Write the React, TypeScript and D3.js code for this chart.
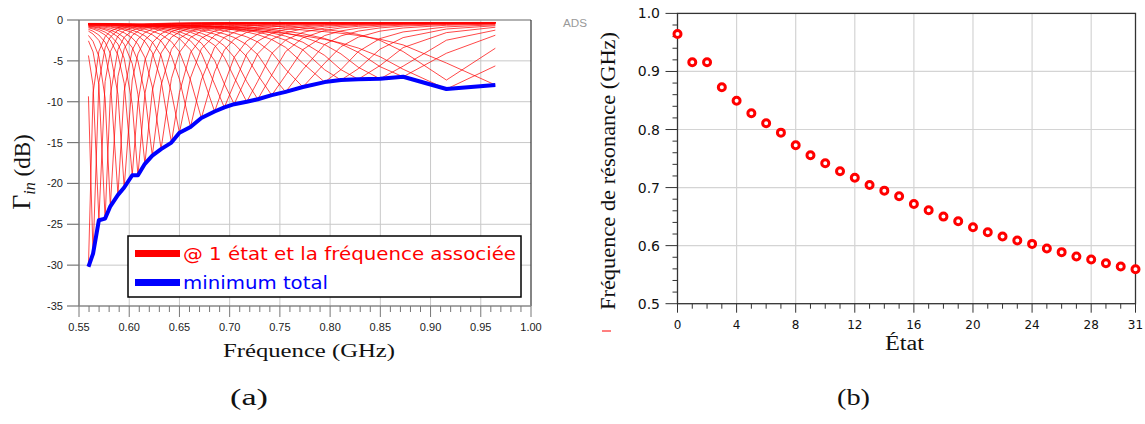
import React from 'react';
import * as d3 from 'd3';

// ---------- data ----------
const STATES = [0, 1, 2, 3, 4, 5, 6, 7, 8, 9, 10, 11, 12, 13, 14, 15, 16, 17, 18, 19, 20, 21, 22, 23, 24, 25, 26, 27, 28, 29, 30, 31];
// resonance frequency of each state (GHz)
const RESONANCE_GHZ = [0.9645, 0.9158, 0.9158, 0.8727, 0.8497, 0.828, 0.8108, 0.7946, 0.7729, 0.7557, 0.7419, 0.728, 0.717, 0.7045, 0.6947, 0.685, 0.6718, 0.661, 0.65, 0.642, 0.6317, 0.623, 0.6156, 0.6087, 0.603, 0.595, 0.5888, 0.5812, 0.576, 0.5698, 0.564, 0.5594];
// depth of each state's resonance dip (dB) (a)
const MIN_DB = [-7.95, -8.45, -7.35, -6.95, -7.2, -7.25, -7.35, -7.6, -8.2, -8.8, -9.2, -9.7, -10.0, -10.3, -10.7, -11.2, -12.0, -13.1, -13.8, -15.0, -15.8, -16.6, -17.6, -19.0, -19.0, -20.5, -21.4, -22.8, -24.3, -24.5, -28.6, -30.2];
// estimated loaded Q of each state (width of its dip in panel (a))
const Q_FACTOR = [4.6, 4.2, 7, 6, 6.5, 7, 7.5, 8, 8.5, 9, 9.5, 10, 10.5, 11, 11.5, 12, 12.5, 13, 13.5, 14, 14.5, 15, 16, 16.5, 17, 18, 19, 20, 21, 22, 23, 24];
const FAR_DB = -0.3;

const A_X_TICKS = [0.55, 0.6, 0.65, 0.7, 0.75, 0.8, 0.85, 0.9, 0.95, 1.0];
const A_Y_TICKS = [0, -5, -10, -15, -20, -25, -30, -35];
const B_X_TICKS = [0, 4, 8, 12, 16, 20, 24, 28, 31];
const B_Y_TICKS = [0.5, 0.6, 0.7, 0.8, 0.9, 1.0];

const LEGEND_A = ['@ 1 état et la fréquence associée', 'minimum total'];

// ---------- helpers ----------
function reflectionDb(state: number, f: number): number {
  const f0 = RESONANCE_GHZ[state];
  const far = Math.pow(10, FAR_DB / 10);
  const g2 = Math.pow(10, MIN_DB[state] / 10) / far;
  const x = (2 * Q_FACTOR[state] * (f - f0)) / f0;
  return 10 * Math.log10((far * (g2 + x * x)) / (1 + x * x));
}

const SANS = '"Liberation Sans", Arial, sans-serif';
const DEJAVU = '"DejaVu Sans", sans-serif';
const SERIF = '"Liberation Serif", "Times New Roman", serif';

export default function App() {
  const xA = d3.scaleLinear().domain([0.55, 1.0]).range([79, 531]);
  const yA = d3.scaleLinear().domain([0, -35]).range([20, 306]);
  const xB = d3.scaleLinear().domain([0, 31]).range([677.5, 1135.5]);
  const yB = d3.scaleLinear().domain([0.5, 1.0]).range([303.7, 13.4]);

  const freqs = Array.from(new Set(RESONANCE_GHZ)).sort((a, b) => a - b);
  const line = d3
    .line<{ f: number; v: number }>()
    .x((d) => xA(d.f))
    .y((d) => yA(d.v));

  const redPaths = STATES.map((s) => line(freqs.map((f) => ({ f, v: reflectionDb(s, f) }))) || '');
  const bluePath =
    line(freqs.map((f) => ({ f, v: d3.min(STATES, (s) => reflectionDb(s, f)) as number }))) || '';

  const aMinor = d3.range(0, 46).map((i) => 0.55 + i * 0.01);
  const bMinorX = STATES;
  const bMinorY = d3.range(0, 26).map((i) => 0.5 + i * 0.02);

  return (
    <svg width={1145} height={424} style={{ position: 'absolute', left: 0, top: 0, background: '#fff' }}>
      <rect x={0} y={0} width={1145} height={424} fill="#fff" />
      {/* ================= Panel (a) ================= */}
      {A_X_TICKS.slice(1, -1).map((t) => (
        <line key={'agx' + t} x1={xA(t)} x2={xA(t)} y1={yA(0)} y2={yA(-35)} stroke="#c8c8c8" strokeWidth={1} />
      ))}
      {A_Y_TICKS.slice(1, -1).map((t) => (
        <line key={'agy' + t} x1={xA(0.55)} x2={xA(1.0)} y1={yA(t)} y2={yA(t)} stroke="#c8c8c8" strokeWidth={1} />
      ))}
      <g>
        {redPaths.map((p, i) => (
          <path key={'r' + i} d={p} fill="none" stroke="#ff0000" strokeWidth={0.8} strokeOpacity={0.9} />
        ))}
      </g>
      <path d={bluePath} fill="none" stroke="#0000ff" strokeWidth={4} strokeLinejoin="round" />
      {/* frame */}
      <line x1={xA(0.55)} x2={xA(1.0)} y1={yA(0)} y2={yA(0)} stroke="#999" strokeWidth={1.5} />
      <line x1={xA(1.0)} x2={xA(1.0)} y1={yA(0)} y2={yA(-35)} stroke="#333" strokeWidth={1.2} />
      <line x1={xA(0.55)} x2={xA(0.55)} y1={yA(0)} y2={yA(-35)} stroke="#777" strokeWidth={1.5} />
      <line x1={xA(0.55)} x2={xA(1.0)} y1={yA(-35)} y2={yA(-35)} stroke="#888" strokeWidth={1.5} />
      {A_Y_TICKS.map((t) => (
        <g key={'ayt' + t}>
          <line x1={67} x2={xA(0.55)} y1={yA(t)} y2={yA(t)} stroke="#777" strokeWidth={1.2} />
          <text x={63} y={yA(t) + 4} textAnchor="end" fontFamily={SANS} fontSize={11} fill="#222">
            {t === 0 ? '0' : String(t)}
          </text>
        </g>
      ))}
      {aMinor.map((t, i) => (
        <line key={'axm' + i} x1={xA(t)} x2={xA(t)} y1={yA(-35)} y2={yA(-35) + (i % 5 === 0 ? 11 : 6)} stroke="#777" strokeWidth={1} />
      ))}
      {A_X_TICKS.map((t) => (
        <text key={'axl' + t} x={xA(t)} y={331} textAnchor="middle" fontFamily={SANS} fontSize={11} fill="#222">
          {t.toFixed(2)}
        </text>
      ))}
      {/* legend */}
      <rect x={128} y={236} width={393} height={61} fill="#fff" stroke="#000" strokeWidth={1.5} />
      <line x1={135} x2={180} y1={253.5} y2={253.5} stroke="#ff0000" strokeWidth={7} />
      <line x1={135} x2={180} y1={282.5} y2={282.5} stroke="#0000ff" strokeWidth={7} />
      <text x={183} y={260} fontFamily={DEJAVU} fontSize={18} fill="#ff0000" textLength={333} lengthAdjust="spacingAndGlyphs">
        {LEGEND_A[0]}
      </text>
      <text x={183} y={289} fontFamily={DEJAVU} fontSize={18} fill="#0000ff" textLength={145} lengthAdjust="spacingAndGlyphs">
        {LEGEND_A[1]}
      </text>
      {/* axis titles */}
      <text transform="translate(30,172) rotate(-90)" textAnchor="middle" fontFamily={SERIF} fontSize={23} fill="#111">
        <tspan fontSize={26}>Γ</tspan>
        <tspan fontStyle="italic" fontSize={16} dy={5}>in</tspan>
        <tspan dy={-5}> (dB)</tspan>
      </text>
      <text x={223} y={357} fontFamily={SERIF} fontSize={19} fill="#111" textLength={172} lengthAdjust="spacingAndGlyphs">
        Fréquence (GHz)
      </text>
      <text x={230} y={405} fontFamily={SERIF} fontSize={24} fill="#111" textLength={38} lengthAdjust="spacingAndGlyphs">
        (a)
      </text>
      <text x={563} y={27} fontFamily={SANS} fontSize={10} fill="#999" textLength={24} lengthAdjust="spacingAndGlyphs">
        ADS
      </text>

      {/* ================= Panel (b) ================= */}
      {B_X_TICKS.slice(1, -1).map((t) => (
        <line key={'bgx' + t} x1={xB(t)} x2={xB(t)} y1={yB(1.0)} y2={yB(0.5)} stroke="#d4d4d4" strokeWidth={1.2} />
      ))}
      {B_Y_TICKS.slice(1, -1).map((t) => (
        <line key={'bgy' + t} x1={xB(0)} x2={xB(31)} y1={yB(t)} y2={yB(t)} stroke="#d4d4d4" strokeWidth={1.2} />
      ))}
      <rect x={xB(0)} y={yB(1.0)} width={xB(31) - xB(0)} height={yB(0.5) - yB(1.0)} fill="none" stroke="#333" strokeWidth={1.3} />
      {bMinorY.map((t, i) => (
        <line key={'bym' + i} x1={xB(0) - (i % 5 === 0 ? 12 : 5)} x2={xB(0)} y1={yB(t)} y2={yB(t)} stroke="#333" strokeWidth={1} />
      ))}
      {B_Y_TICKS.map((t) => (
        <text key={'byl' + t} x={660} y={yB(t) + 5} textAnchor="end" fontFamily={DEJAVU} fontSize={14} fill="#111">
          {t.toFixed(1)}
        </text>
      ))}
      {bMinorX.map((t) => (
        <line key={'bxm' + t} x1={xB(t)} x2={xB(t)} y1={yB(0.5)} y2={yB(0.5) + (B_X_TICKS.includes(t) ? 9 : 5)} stroke="#333" strokeWidth={1} />
      ))}
      {B_X_TICKS.map((t) => (
        <text key={'bxl' + t} x={xB(t)} y={329} textAnchor="middle" fontFamily={DEJAVU} fontSize={12} fill="#111">
          {t}
        </text>
      ))}
      {STATES.map((s) => (
        <circle key={'pt' + s} cx={xB(s)} cy={yB(RESONANCE_GHZ[s])} r={3.5} fill="#fff" stroke="#ff0000" strokeWidth={3} />
      ))}
      <line x1={602} x2={611} y1={331} y2={331} stroke="#ff0000" strokeWidth={1} />
      <text transform="translate(615,171) rotate(-90)" textAnchor="middle" fontFamily={SERIF} fontSize={20.5} fill="#111" textLength={278} lengthAdjust="spacingAndGlyphs">
        Fréquence de résonance (GHz)
      </text>
      <text x={885} y={350} fontFamily={SERIF} fontSize={20} fill="#111" textLength={39} lengthAdjust="spacingAndGlyphs">
        État
      </text>
      <text x={837} y={405} fontFamily={SERIF} fontSize={24} fill="#111" textLength={33} lengthAdjust="spacingAndGlyphs">
        (b)
      </text>
    </svg>
  );
}
